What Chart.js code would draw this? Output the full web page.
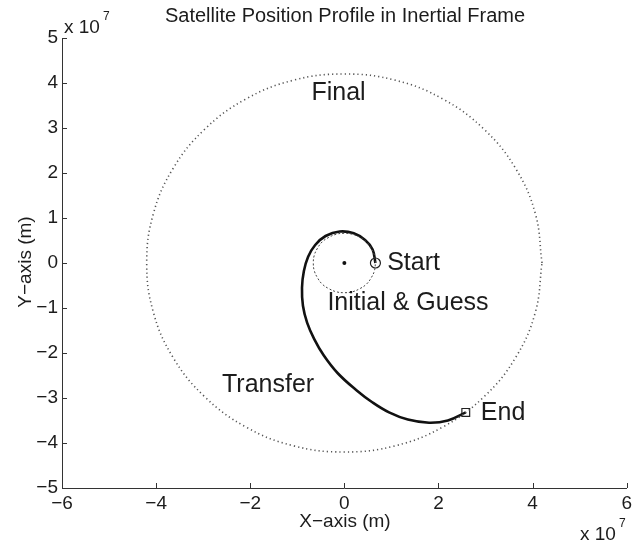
<!DOCTYPE html>
<html>
<head>
<meta charset="utf-8">
<script src="https://cdn.jsdelivr.net/npm/chart.js@4.4.1/dist/chart.umd.min.js"></script>
<style>
  html, body { margin: 0; padding: 0; background: #fff; }
  #wrap { width: 636px; height: 546px; }
</style>
</head>
<body>
<div id="wrap"><canvas id="orbitChart"></canvas></div>
<script>
// all positions in units of 1e7 m (axes show "x 10^7")
const finalX = [4.2, 4.06, 3.64, 2.97, 2.1, 1.09, 0, -1.09, -2.1, -2.97, -3.64, -4.06, -4.2, -4.06, -3.64, -2.97, -2.1, -1.09, 0, 1.09, 2.1, 2.97, 3.64, 4.06, 4.2];
const finalY = [0, 1.09, 2.1, 2.97, 3.64, 4.06, 4.2, 4.06, 3.64, 2.97, 2.1, 1.09, 0, -1.09, -2.1, -2.97, -3.64, -4.06, -4.2, -4.06, -3.64, -2.97, -2.1, -1.09, 0];

const initialX = [0.66, 0.64, 0.57, 0.47, 0.33, 0.17, 0, -0.17, -0.33, -0.47, -0.57, -0.64, -0.66, -0.64, -0.57, -0.47, -0.33, -0.17, 0, 0.17, 0.33, 0.47, 0.57, 0.64, 0.66];
const initialY = [0, 0.17, 0.33, 0.47, 0.57, 0.64, 0.66, 0.64, 0.57, 0.47, 0.33, 0.17, 0, -0.17, -0.33, -0.47, -0.57, -0.64, -0.66, -0.64, -0.57, -0.47, -0.33, -0.17, 0];

const transferX = [0.66, 0.60, 0.44, 0.20, -0.10, -0.40, -0.62, -0.77, -0.86, -0.90, -0.88, -0.79, -0.64, -0.44, -0.14, 0.25, 0.60, 0.95, 1.35, 1.80, 2.20, 2.58];
const transferY = [0, 0.30, 0.51, 0.66, 0.70, 0.60, 0.40, 0.14, -0.18, -0.55, -0.95, -1.33, -1.69, -2.05, -2.45, -2.82, -3.10, -3.32, -3.48, -3.55, -3.50, -3.32];

const startPoint = [0.66, 0];
const endPoint = [2.58, -3.32];
const earthPoint = [0, 0];

const xTicks = [-6, -4, -2, 0, 2, 4, 6];
const yTicks = [-5, -4, -3, -2, -1, 0, 1, 2, 3, 4, 5];

const labelNames = ['Final', 'Start', 'Initial & Guess', 'Transfer', 'End'];
const labelX = [-0.70, 0.91, -0.36, -2.6, 2.9];
const labelY = [3.77, 0, -0.9, -2.72, -3.33];

const FONT = '"Liberation Sans", Arial, Helvetica, sans-serif';
const INK = '#1c1c1c';

function toPoints(xs, ys) {
    return xs.map((x, i) => ({ x: x, y: ys[i] }));
}

function fmt(v) {
    return v < 0 ? '\u2212' + Math.abs(v) : String(v);
}

const extras = {
    id: 'extras',
    afterDatasetsDraw(chart) {
        const ctx = chart.ctx;
        const area = chart.chartArea;
        const xs = chart.scales.x;
        const ys = chart.scales.y;
        ctx.save();

        // inward tick marks, matlab style
        ctx.strokeStyle = '#333';
        ctx.lineWidth = 1;
        ctx.beginPath();
        xTicks.forEach(v => {
            const px = Math.round(xs.getPixelForValue(v)) + 0.5;
            ctx.moveTo(px, area.bottom);
            ctx.lineTo(px, area.bottom - 5);
        });
        yTicks.forEach(v => {
            const py = Math.round(ys.getPixelForValue(v)) + 0.5;
            ctx.moveTo(area.left, py);
            ctx.lineTo(area.left + 5, py);
        });
        ctx.stroke();

        ctx.fillStyle = INK;

        // title
        ctx.font = '20px ' + FONT;
        ctx.textAlign = 'center';
        ctx.textBaseline = 'middle';
        ctx.fillText('Satellite Position Profile in Inertial Frame', 345, 16);

        // axis titles
        ctx.font = '19px ' + FONT;
        ctx.fillText('X\u2212axis (m)', 345, 522);
        ctx.save();
        ctx.translate(26, 262);
        ctx.rotate(-Math.PI / 2);
        ctx.fillText('Y\u2212axis (m)', 0, 0);
        ctx.restore();

        // exponent notes
        ctx.textAlign = 'left';
        ctx.textBaseline = 'alphabetic';
        ctx.font = '19px ' + FONT;
        ctx.fillText('x 10', 64, 33);
        ctx.fillText('x 10', 580, 540);
        ctx.font = '12px ' + FONT;
        ctx.fillText('7', 103, 20);
        ctx.fillText('7', 619, 527);

        // curve labels
        ctx.font = '25px ' + FONT;
        ctx.textBaseline = 'middle';
        labelNames.forEach((t, i) => {
            ctx.fillText(t, xs.getPixelForValue(labelX[i]), ys.getPixelForValue(labelY[i]));
        });

        ctx.restore();
    }
};

const orbitChart = document.getElementById('orbitChart');

new Chart(orbitChart, {
    type: 'scatter',
    data: {
        datasets: [
            {
                label: 'Final',
                data: toPoints(finalX, finalY),
                showLine: true,
                tension: 0.4,
                borderColor: '#555',
                borderWidth: 1.6,
                borderDash: [1.2, 3],
                pointRadius: 0
            },
            {
                label: 'Initial & Guess',
                data: toPoints(initialX, initialY),
                showLine: true,
                tension: 0.4,
                borderColor: '#444',
                borderWidth: 1,
                borderDash: [2, 2],
                pointRadius: 0
            },
            {
                label: 'Transfer',
                data: toPoints(transferX, transferY),
                showLine: true,
                tension: 0.4,
                borderColor: '#111',
                borderWidth: 2.6,
                pointRadius: 0
            },
            {
                label: 'Start',
                data: [{ x: startPoint[0], y: startPoint[1] }],
                pointStyle: 'circle',
                pointRadius: 5,
                borderWidth: 1.2,
                borderColor: '#222',
                backgroundColor: 'rgba(255,255,255,0)'
            },
            {
                label: 'End',
                data: [{ x: endPoint[0], y: endPoint[1] }],
                pointStyle: 'rect',
                pointRadius: 5.5,
                borderWidth: 1.2,
                borderColor: '#222',
                backgroundColor: 'rgba(255,255,255,0)'
            },
            {
                label: 'Earth',
                data: [{ x: earthPoint[0], y: earthPoint[1] }],
                pointStyle: 'circle',
                pointRadius: 2,
                borderWidth: 0,
                backgroundColor: '#111'
            }
        ]
    },
    options: {
        responsive: true,
        maintainAspectRatio: false,
        animation: false,
        layout: {
            padding: { top: 38, right: 8, left: 0, bottom: 0 }
        },
        plugins: {
            legend: { display: false },
            tooltip: { enabled: false },
            title: { display: false }
        },
        scales: {
            x: {
                type: 'linear',
                min: -6,
                max: 6,
                afterBuildTicks: s => { s.ticks = xTicks.map(v => ({ value: v })); },
                afterFit: s => { s.height = 58; },
                grid: { display: true, drawOnChartArea: false, drawTicks: false },
                border: { display: true, color: '#333', width: 1 },
                ticks: {
                    padding: 4,
                    color: INK,
                    font: { family: FONT, size: 19 },
                    callback: v => fmt(v),
                    maxRotation: 0
                }
            },
            y: {
                type: 'linear',
                min: -5,
                max: 5,
                afterBuildTicks: s => { s.ticks = yTicks.map(v => ({ value: v })); },
                afterFit: s => { s.width = 62; },
                grid: { display: true, drawOnChartArea: false, drawTicks: false },
                border: { display: true, color: '#333', width: 1 },
                ticks: {
                    padding: 4,
                    color: INK,
                    font: { family: FONT, size: 19 },
                    callback: v => fmt(v)
                }
            }
        }
    },
    plugins: [extras]
});
</script>
</body>
</html>
